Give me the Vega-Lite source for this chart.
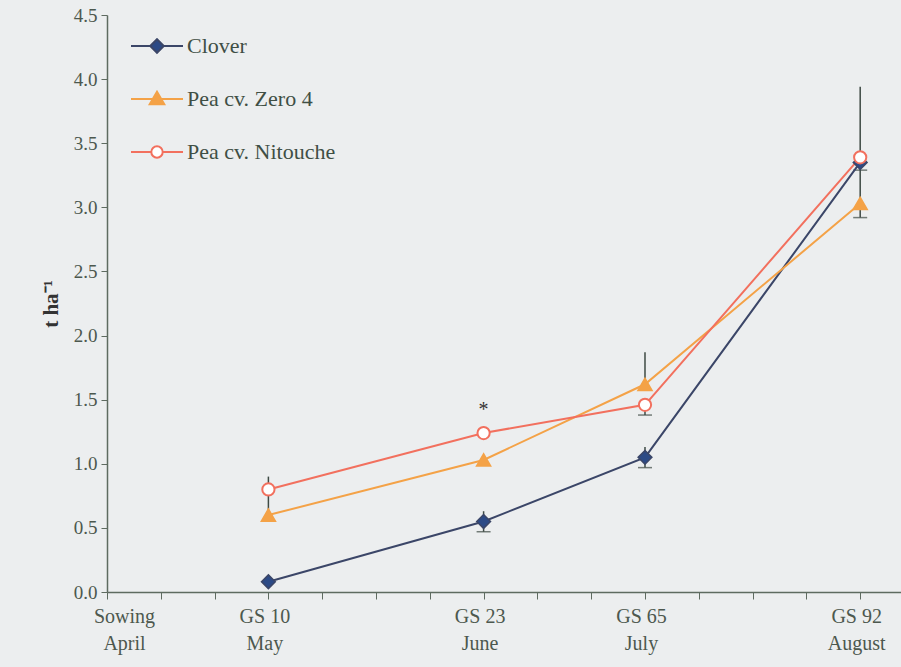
{
  "$schema": "https://vega.github.io/schema/vega-lite/v6.json",
  "autosize": {"type": "none"},
  "padding": {"left": 107, "top": 15, "right": 0, "bottom": 75},
  "width": 800,
  "height": 577,
  "background": "#eceeef",
  "config": {
    "view": {"stroke": null},
    "font": "Liberation Serif",
    "axis": {"grid": false, "labelFont": "Liberation Serif", "titleFont": "Liberation Serif", "domainColor": "#5e6b60", "tickColor": "#5e6b60", "labelColor": "#4c584e", "labelFontSize": 19, "domainWidth": 1.5}
  },
  "datasets": {
    "pts": [
      {"series": "Clover", "x": 3, "y": 0.08},
      {"series": "Clover", "x": 7, "y": 0.55},
      {"series": "Clover", "x": 10, "y": 1.05},
      {"series": "Clover", "x": 14, "y": 3.35},
      {"series": "Pea cv. Zero 4", "x": 3, "y": 0.6},
      {"series": "Pea cv. Zero 4", "x": 7, "y": 1.03},
      {"series": "Pea cv. Zero 4", "x": 10, "y": 1.62},
      {"series": "Pea cv. Zero 4", "x": 14, "y": 3.03},
      {"series": "Pea cv. Nitouche", "x": 3, "y": 0.8},
      {"series": "Pea cv. Nitouche", "x": 7, "y": 1.24},
      {"series": "Pea cv. Nitouche", "x": 10, "y": 1.46},
      {"series": "Pea cv. Nitouche", "x": 14, "y": 3.39}
    ],
    "err": [
      {"x": 3, "lo": 0.63, "hi": 0.9},
      {"x": 7, "lo": 1.19, "hi": 1.29},
      {"x": 7, "lo": 0.47, "hi": 0.63},
      {"x": 10, "lo": 1.62, "hi": 1.87},
      {"x": 10, "lo": 1.38, "hi": 1.46},
      {"x": 10, "lo": 0.97, "hi": 1.13},
      {"x": 14, "lo": 2.92, "hi": 3.94}
    ],
    "caps": [
      {"x": 7, "y": 0.47},
      {"x": 10, "y": 1.38},
      {"x": 10, "y": 0.97},
      {"x": 14, "y": 3.29},
      {"x": 14, "y": 2.92}
    ],
    "ann": [{"x": 7, "y": 1.42, "label": "*"}]
  },
  "layer": [
    {
      "data": {"name": "err"},
      "mark": {"type": "rule", "color": "#3e4a44", "strokeWidth": 1.5},
      "encoding": {
        "x": {"field": "x", "type": "quantitative", "scale": {"domain": [0, 14.87], "nice": false, "zero": false},
          "axis": {"values": [0,1,2,3,4,5,6,7,8,9,10,11,12,13,14], "title": null, "tickSize": 7, "labelPadding": 7, "labelLineHeight": 27, "labelBaseline": "top", "labelFontSize": 20,
            "labelExpr": "datum.value == 0 ? ['Sowing', 'April'] : datum.value == 3 ? ['GS 10', 'May'] : datum.value == 7 ? ['GS 23', 'June'] : datum.value == 10 ? ['GS 65', 'July'] : datum.value == 14 ? ['GS 92', 'August'] : ''",
            "labelOffset": {"condition": {"test": "datum.value == 0", "value": 17}, "value": -4},
            "labelOverlap": false, "labelFlush": false}},
        "y": {"field": "lo", "type": "quantitative", "scale": {"domain": [0, 4.5], "nice": false},
          "axis": {"values": [0,0.5,1,1.5,2,2.5,3,3.5,4,4.5], "format": ".1f", "title": "t ha⁻¹", "titleFontSize": 21, "titleFontWeight": "bold", "titleColor": "#333", "titlePadding": 12, "tickSize": 6, "labelPadding": 4}},
        "y2": {"field": "hi"}
      }
    },
    {
      "data": {"name": "caps"},
      "mark": {"type": "tick", "color": "#3e4a44", "thickness": 1.5, "size": 14, "orient": "horizontal"},
      "encoding": {
        "x": {"field": "x", "type": "quantitative"},
        "y": {"field": "y", "type": "quantitative"}
      }
    },
    {
      "data": {"name": "pts"},
      "mark": {"type": "line", "strokeWidth": 2},
      "encoding": {
        "x": {"field": "x", "type": "quantitative"},
        "y": {"field": "y", "type": "quantitative"},
        "color": {"field": "series", "type": "nominal",
          "scale": {"domain": ["Clover", "Pea cv. Zero 4", "Pea cv. Nitouche"], "range": ["#3b4668", "#f4a247", "#f2705e"]},
          "legend": {"title": null, "orient": "none", "legendX": 23, "legendY": 4, "padding": 0, "symbolSize": 2704, "rowPadding": 15, "labelOffset": 3,
            "labelFont": "Liberation Serif", "labelFontSize": 22, "labelColor": "#3f4f45", "symbolStrokeWidth": 2,
            "encode": {"symbols": {"update": {
              "shape": {"signal": "datum.value === 'Clover' ? 'M-1,0H-0.26M0.26,0H1M-0.26,0L0,-0.26L0.26,0L0,0.26Z' : datum.value === 'Pea cv. Zero 4' ? 'M-1,0H1M0,-0.28L0.28,0.2L-0.28,0.2Z' : 'M-1,0H-0.22M0.22,0H1M0.22,0A0.22,0.22 0 1,1 -0.22,0A0.22,0.22 0 1,1 0.22,0'"},
              "size": {"value": 2704},
              "fill": {"signal": "datum.value === 'Pea cv. Nitouche' ? 'white' : datum.value === 'Clover' ? '#2c4a86' : '#f4a247'"},
              "stroke": {"signal": "scale('color', datum.value)"},
              "strokeWidth": {"value": 2},
              "opacity": {"value": 1}
            }}}}
        }
      }
    },
    {
      "data": {"name": "pts"},
      "transform": [{"filter": "datum.series === 'Clover'"}],
      "mark": {"type": "point", "shape": "diamond", "size": 190, "filled": true, "fill": "#2c4a86", "stroke": "#3b4668", "strokeWidth": 1.5, "opacity": 1},
      "encoding": {
        "x": {"field": "x", "type": "quantitative"},
        "y": {"field": "y", "type": "quantitative"}
      }
    },
    {
      "data": {"name": "pts"},
      "transform": [{"filter": "datum.series === 'Pea cv. Zero 4'"}],
      "mark": {"type": "point", "shape": "triangle-up", "size": 200, "filled": true, "fill": "#f4a247", "stroke": "#f4a247", "strokeWidth": 1.5, "opacity": 1},
      "encoding": {
        "x": {"field": "x", "type": "quantitative"},
        "y": {"field": "y", "type": "quantitative"}
      }
    },
    {
      "data": {"name": "pts"},
      "transform": [{"filter": "datum.series === 'Pea cv. Nitouche'"}],
      "mark": {"type": "point", "shape": "circle", "size": 150, "filled": true, "fill": "#ffffff", "stroke": "#f2705e", "strokeWidth": 2, "opacity": 1},
      "encoding": {
        "x": {"field": "x", "type": "quantitative"},
        "y": {"field": "y", "type": "quantitative"}
      }
    },
    {
      "data": {"name": "ann"},
      "mark": {"type": "text", "font": "Liberation Serif", "fontSize": 20, "color": "#333", "baseline": "middle"},
      "encoding": {
        "x": {"field": "x", "type": "quantitative"},
        "y": {"field": "y", "type": "quantitative"},
        "text": {"field": "label"}
      }
    }
  ]
}
